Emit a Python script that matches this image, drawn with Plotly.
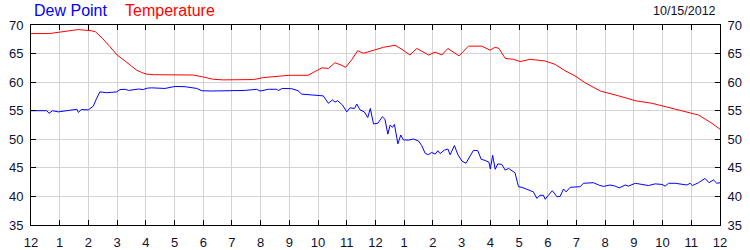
import plotly.graph_objects as go

# hours since midnight (10/15/2012) and readings in °F
temp_hours = [0, 0.65, 1.0, 1.4, 1.65, 1.85, 2.1, 2.25, 2.5, 2.75, 3.0, 3.2, 3.37, 3.55, 3.68, 3.85, 4.03, 4.3,
              4.73, 5.2, 5.65, 6.0, 6.35, 6.7, 7.05, 7.4, 7.75, 8.1, 8.45, 9.0, 9.65, 9.9, 10.13, 10.36, 10.59,
              10.8, 10.96, 11.17, 11.38, 11.58, 11.87, 12.28, 12.68, 12.92, 13.2, 13.44, 13.85, 14.08, 14.31,
              14.52, 14.91, 15.24, 15.7, 15.99, 16.17, 16.3, 16.52, 16.8, 17.04, 17.39, 17.91, 18.26, 18.6,
              18.95, 19.3, 19.83, 20.47, 21.05, 21.63, 22.2, 22.8, 23.25, 23.72, 24.0]
temp_values = [68.5, 68.5, 68.75, 69.0, 69.2, 69.1, 69.0, 68.8, 67.6, 66.2, 64.75, 64.0, 63.3, 62.7, 62.1, 61.7,
               61.4, 61.3, 61.25, 61.25, 61.25, 60.9, 60.5, 60.4, 60.4, 60.4, 60.45, 60.8, 61.0, 61.2, 61.2,
               61.9, 62.5, 62.4, 63.4, 63.0, 62.6, 63.9, 65.5, 65.05, 65.5, 66.1, 66.45, 65.75, 64.75, 65.9,
               64.75, 65.25, 64.75, 65.9, 64.6, 66.3, 66.3, 65.6, 66.1, 65.9, 64.15, 64.0, 63.6, 64.0, 63.7,
               63.1, 62.0, 61.1, 59.9, 58.45, 57.6, 56.75, 56.3, 55.6, 54.8, 54.25, 52.8, 51.75]

dew_hours = [0, 0.3, 0.55, 0.63, 0.75, 0.95, 1.2, 1.5, 1.6, 1.65, 1.75, 2.0, 2.17, 2.29, 2.4, 2.64, 2.99, 3.1,
             3.28, 3.4, 3.62, 3.75, 3.91, 4.05, 4.2, 4.67, 5.02, 5.37, 5.77, 5.95, 6.3, 6.99, 7.46, 7.86, 7.98,
             8.27, 8.55, 8.62, 8.75, 9.08, 9.3, 9.43, 9.9, 10.18, 10.36, 10.5, 10.59, 10.68, 10.85, 11.0, 11.11,
             11.27, 11.35, 11.46, 11.61, 11.73, 11.82, 11.93, 12.08, 12.24, 12.33, 12.43, 12.51, 12.59, 12.66,
             12.78, 12.88, 12.97, 13.15, 13.32, 13.5, 13.61, 13.73, 13.84, 13.96, 14.08, 14.17, 14.25, 14.4,
             14.52, 14.6, 14.75, 14.87, 15.01, 15.15, 15.26, 15.41, 15.56, 15.68, 15.82, 15.95, 16.0, 16.08,
             16.17, 16.26, 16.4, 16.52, 16.63, 16.75, 16.86, 16.98, 17.1, 17.27, 17.5, 17.62, 17.73, 17.85,
             17.91, 18.02, 18.16, 18.32, 18.43, 18.55, 18.64, 18.78, 18.95, 19.13, 19.24, 19.42, 19.59, 19.77,
             19.94, 20.17, 20.35, 20.49, 20.7, 20.81, 21.05, 21.28, 21.51, 21.74, 21.98, 22.09, 22.21, 22.44,
             22.67, 22.85, 22.96, 23.04, 23.25, 23.48, 23.62, 23.77, 23.89, 24.0]
dew_values = [55.0, 55.05, 55.0, 54.55, 55.0, 54.8, 54.95, 55.1, 55.25, 54.7, 55.2, 55.15, 55.8, 57.2, 58.3,
              58.15, 58.3, 58.7, 58.75, 58.55, 58.65, 58.8, 58.7, 58.95, 59.0, 58.9, 59.25, 59.2, 58.9, 58.5,
              58.45, 58.45, 58.55, 58.75, 58.45, 58.75, 58.75, 58.55, 58.9, 58.85, 58.5, 57.9, 57.65, 57.6,
              56.3, 56.9, 56.5, 56.75, 56.0, 54.8, 55.5, 55.4, 56.15, 55.15, 54.8, 53.8, 55.4, 52.7, 52.8,
              53.95, 53.5, 50.9, 52.5, 52.1, 52.6, 49.2, 50.75, 49.9, 49.85, 50.05, 49.7, 48.9, 47.55, 47.3,
              47.7, 47.4, 48.0, 47.5, 48.1, 48.3, 47.3, 48.9, 47.3, 46.2, 45.8, 46.7, 48.05, 48.05, 46.5,
              46.3, 46.0, 44.8, 47.2, 44.75, 45.7, 45.6, 44.6, 44.9, 44.5, 44.15, 41.7, 41.6, 41.25, 40.8,
              39.65, 40.2, 40.2, 39.5, 40.2, 41.0, 39.95, 40.0, 41.3, 40.8, 41.6, 41.7, 41.7, 42.3, 42.3,
              42.4, 42.0, 41.75, 42.0, 41.8, 41.5, 42.0, 41.8, 42.3, 42.1, 41.9, 42.2, 42.1, 41.8, 42.3,
              42.3, 42.2, 42.0, 42.3, 41.9, 42.4, 43.15, 42.4, 42.9, 42.3, 42.4]

x_tickvals = list(range(0, 25))
x_ticktext = ["12", "1", "2", "3", "4", "5", "6", "7", "8", "9", "10", "11",
              "12", "1", "2", "3", "4", "5", "6", "7", "8", "9", "10", "11", "12"]
y_tickvals = [35, 40, 45, 50, 55, 60, 65, 70]
date_label = "10/15/2012"

FONT = "Liberation Sans, Arial, sans-serif"
LABEL_COLOR = "#101030"

fig = go.Figure()
fig.add_trace(go.Scatter(x=dew_hours, y=dew_values, mode="lines", name="Dew Point",
                         line=dict(color="#0000ff", width=1), yaxis="y"))
fig.add_trace(go.Scatter(x=temp_hours, y=temp_values, mode="lines", name="Temperature",
                         line=dict(color="#ff0000", width=1), yaxis="y2"))

axis_common = dict(showline=True, linecolor="black", linewidth=1, ticks="inside", ticklen=5,
                   tickcolor="black", tickwidth=1, showgrid=True, gridcolor="#d3d3d3", gridwidth=1,
                   zeroline=False, automargin=False,
                   tickfont=dict(family=FONT, size=13, color=LABEL_COLOR))

W, H = 750, 250
pl, pr, pt, pb = 31, 30, 25, 25
pw, ph = W - pl - pr, H - pt - pb

fig.update_layout(
    width=W, height=H,
    margin=dict(l=pl, r=pr, t=pt, b=pb, autoexpand=False),
    paper_bgcolor="white", plot_bgcolor="white",
    showlegend=False,
    xaxis=dict(range=[0, 24], tickvals=x_tickvals, ticktext=x_ticktext, mirror="ticks",
               ticklabelstandoff=5, **axis_common),
    yaxis=dict(range=[35, 70], tickvals=y_tickvals, mirror=True, side="left",
               ticklabelstandoff=4, **axis_common),
    yaxis2=dict(range=[35, 70], tickvals=y_tickvals, overlaying="y", side="right", matches="y",
                ticklabelstandoff=4, **axis_common),
)

def px_to_paper(xp, yp):
    return (xp - pl) / pw, (H - pb - yp) / ph

anns = []
for text, xp, color, size, anchor in [("Dew Point", 32, "#0000ff", 16, "left"),
                                       ("Temperature", 123, "#ff0000", 16, "left"),
                                       (date_label, 718, LABEL_COLOR, 12.5, "right")]:
    xr, yr = px_to_paper(xp, 11)
    anns.append(dict(text=text, x=xr, y=yr, xref="paper", yref="paper", showarrow=False,
                     xanchor=anchor, yanchor="middle",
                     font=dict(family=FONT, size=size, color=color)))
fig.update_layout(annotations=anns)

fig.write_html("out.html")
